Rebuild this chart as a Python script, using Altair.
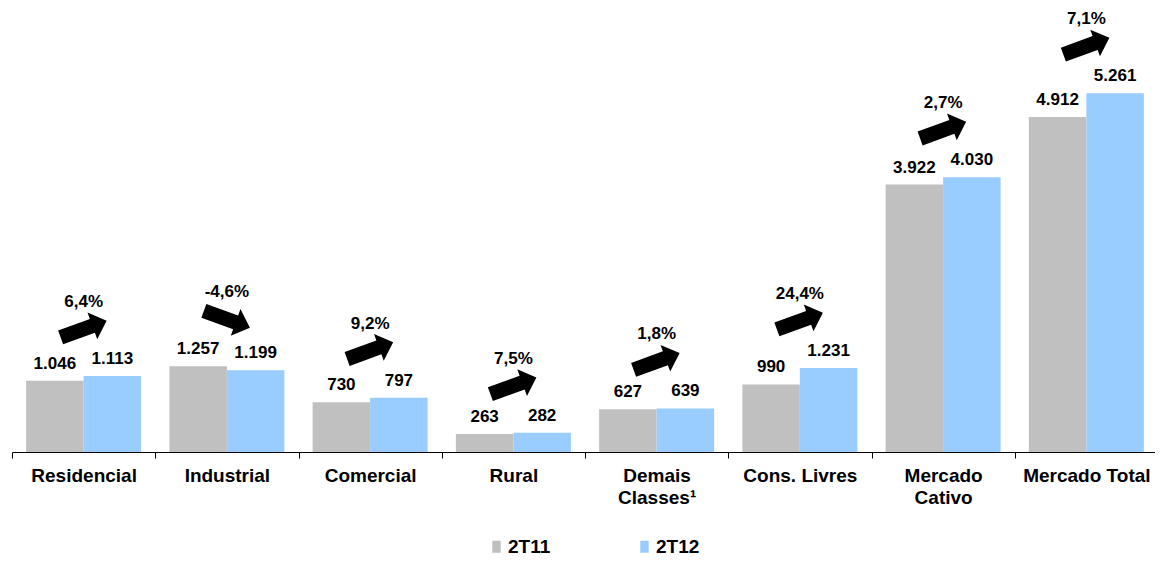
import altair as alt
import pandas as pd

categories = ["Residencial", "Industrial", "Comercial", "Rural", "Demais|Classes¹",
              "Cons. Livres", "Mercado|Cativo", "Mercado Total"]
series = ["2T11", "2T12"]
v_2t11 = [1046, 1257, 730, 263, 627, 990, 3922, 4912]
v_2t12 = [1113, 1199, 797, 282, 639, 1231, 4030, 5261]
v_2t11_txt = ["1.046", "1.257", "730", "263", "627", "990", "3.922", "4.912"]
v_2t12_txt = ["1.113", "1.199", "797", "282", "639", "1.231", "4.030", "5.261"]
pct_txt = ["6,4%", "-4,6%", "9,2%", "7,5%", "1,8%", "24,4%", "2,7%", "7,1%"]

FONT = "Liberation Sans"
colors = ["#C0C0C0", "#99CCFF"]

rows = []
for i, c in enumerate(categories):
    rows.append({"cat": c, "serie": series[0], "value": v_2t11[i], "label": v_2t11_txt[i]})
    rows.append({"cat": c, "serie": series[1], "value": v_2t12[i], "label": v_2t12_txt[i]})
df = pd.DataFrame(rows)

arrows = pd.DataFrame({
    "cat": categories,
    "top": [max(a, b) for a, b in zip(v_2t11, v_2t12)],
    "pct": pct_txt,
    "angle": [20 if b < a else 340 for a, b in zip(v_2t11, v_2t12)],
})

arrow_path = "M-1,-0.3 L0.38,-0.3 L0.38,-0.58 L1,0 L0.38,0.58 L0.38,0.3 L-1,0.3 Z"
legend_shape = "M-0.7,-1 L0.7,-1 L0.7,1 L-0.7,1 Z"

x_scale = alt.Scale(paddingInner=0, paddingOuter=0, range=[0, 1146])
x_enc = alt.X("cat:N", sort=categories, title=None, scale=x_scale,
              axis=alt.Axis(labelAngle=0, labelFont=FONT, labelFontSize=19,
                            labelFontWeight="bold", labelColor="black",
                            labelExpr="split(datum.label, '|')", labelLineHeight=22,
                            labelPadding=8, labelBaseline="top",
                            tickBand="extent", tickSize=6, tickColor="black",
                            domainColor="black", domainWidth=1, grid=False))
y_scale = alt.Scale(domain=[0, 6510], nice=False)
y_enc = alt.Y("value:Q", scale=y_scale, axis=None)
xo = alt.XOffset("serie:N", sort=series,
                 scale=alt.Scale(paddingOuter=0.2457, paddingInner=0))

base = alt.Chart(df)
bars = base.mark_bar().encode(
    x=x_enc, xOffset=xo, y=y_enc,
    color=alt.Color("serie:N", sort=series,
                    scale=alt.Scale(domain=series, range=colors),
                    legend=alt.Legend(orient="none", legendX=475, legendY=529,
                                      direction="horizontal", title=None,
                                      symbolType=legend_shape, symbolSize=144,
                                      symbolStrokeWidth=0, labelFont=FONT,
                                      labelFontSize=19, labelFontWeight="bold",
                                      labelColor="black", columnPadding=84,
                                      labelOffset=2)),
)
vals = base.mark_text(font=FONT, fontSize=17, fontWeight="bold", color="black",
                      baseline="middle", dy=-17).encode(
    x=alt.X("cat:N", sort=categories, scale=x_scale), xOffset=xo, y=y_enc,
    text="label:N")

arr_base = alt.Chart(arrows)
arrow_marks = arr_base.mark_point(shape=arrow_path, filled=True, color="black",
                                  opacity=1, size=2400, yOffset=-47).encode(
    x=alt.X("cat:N", sort=categories, scale=x_scale),
    y=alt.Y("top:Q", scale=y_scale, axis=None),
    angle=alt.Angle("angle:Q", scale=None))
pct_marks = arr_base.mark_text(font=FONT, fontSize=17, fontWeight="bold",
                               color="black", baseline="middle", dy=-74).encode(
    x=alt.X("cat:N", sort=categories, scale=x_scale),
    y=alt.Y("top:Q", scale=y_scale, axis=None),
    text="pct:N")

chart = alt.layer(bars, vals, arrow_marks, pct_marks).properties(
    width=1143, height=444,
    autosize=alt.AutoSizeParams(type="none"),
    padding={"left": 4, "top": 0, "right": 0, "bottom": 107},
).configure(background="white").configure_view(stroke=None)

chart.save("out.html", embed_options={"renderer": "svg", "actions": False})
